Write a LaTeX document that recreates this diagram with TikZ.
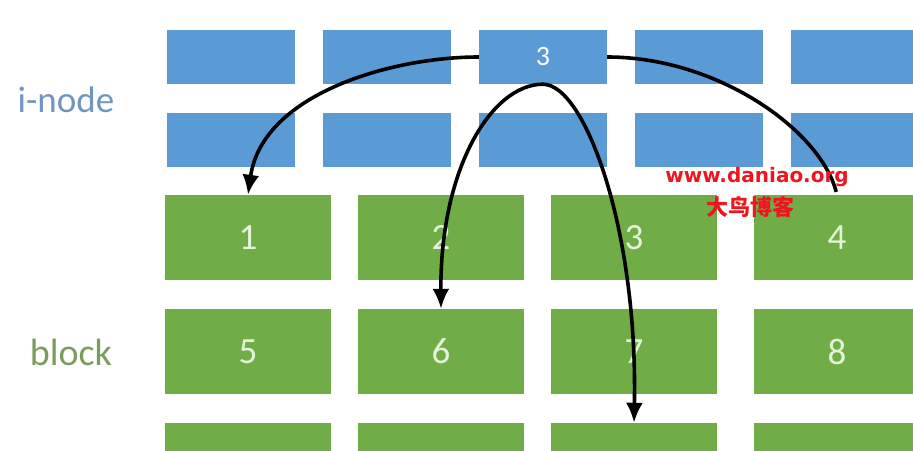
\documentclass[tikz,border=0pt]{standalone}
\usepackage{fontspec}
\setmainfont{Carlito}
\newfontfamily\markfont{DejaVu Sans}
\newfontfamily\cjkfont{Noto Sans CJK SC}
\usetikzlibrary{arrows.meta}
\definecolor{inodeblue}{HTML}{5B9BD5}
\definecolor{blockgreen}{HTML}{70AD47}
\definecolor{inodetext}{HTML}{7096BE}
\definecolor{blocktext}{HTML}{7B9C5A}
\definecolor{numtext}{HTML}{E6F2DC}
\definecolor{markred}{HTML}{F0141E}
\tikzset{
  inode/.style={fill=inodeblue, minimum width=128pt, minimum height=54pt,
    inner sep=0pt, text=white, font=\fontsize{28}{28}\selectfont},
  blk/.style={fill=blockgreen, minimum width=166pt, minimum height=85pt,
    inner sep=0pt, text=numtext, font=\fontsize{37}{37}\selectfont},
  ptr/.style={draw=black, line width=3.6pt, -{Latex[length=20pt,width=17pt]}}
}
\begin{document}
\begin{tikzpicture}[x=1pt,y=-1pt]
    \useasboundingbox (0,0) rectangle (913,450);
    % Two rows of i-nodes on top, only the third one is numbered
    \foreach \c [count=\i] in {231,387,543,699,855} {
        \node[inode] (ia\i) at (\c,57) {\ifnum\i=3 3\fi};
        \node[inode] (ib\i) at (\c,140) {};
    }
    % The data blocks below them, three rows of four
    \foreach \c/\k in {248/1,441/2,634/3,837/4} {
        \pgfmathtruncatemacro\m{\k+4}
        \pgfmathtruncatemacro\n{\k+8}
        \node[blk] (blk\k) at (\c,237.5) {\k};
        \node[blk] (blk\m) at (\c,351.5) {\m};
        \node[blk] (blk\n) at (\c,465.5) {};
    }
    % Row labels on the left
    \node[text=inodetext, font=\fontsize{37}{37}\selectfont] (inodelabel) at (66,100) {i-node};
    \node[text=blocktext, font=\fontsize{38}{38}\selectfont] (blocklabel) at (71,352) {block};
    % Pointers from i-node 3 to its blocks
    \draw[ptr] (ia3.west) .. controls +(-89,0) and +(14,-100) .. (blk1.north);
    \draw[ptr] (ia3.south) .. controls +(-52,0) and +(-1,-139) .. (blk6.north);
    \draw[ptr] (ia3.south) .. controls +(42,0) and +(4,-193) .. (blk11.north);
    \draw[line width=3.6pt, shorten >=3pt] (ia3.east) .. controls +(110,0) and +(-17,-65) .. (blk4.north);
    % Site mark over the picture
    \node[text=markred, font=\markfont\bfseries\fontsize{20}{20}\selectfont] (markurl) at (757,177) {www.daniao.org};
    \node[text=markred, font=\cjkfont\bfseries\fontsize{22}{22}\selectfont] (markname) at (750,207) {大鸟博客};
\end{tikzpicture}
\end{document}
